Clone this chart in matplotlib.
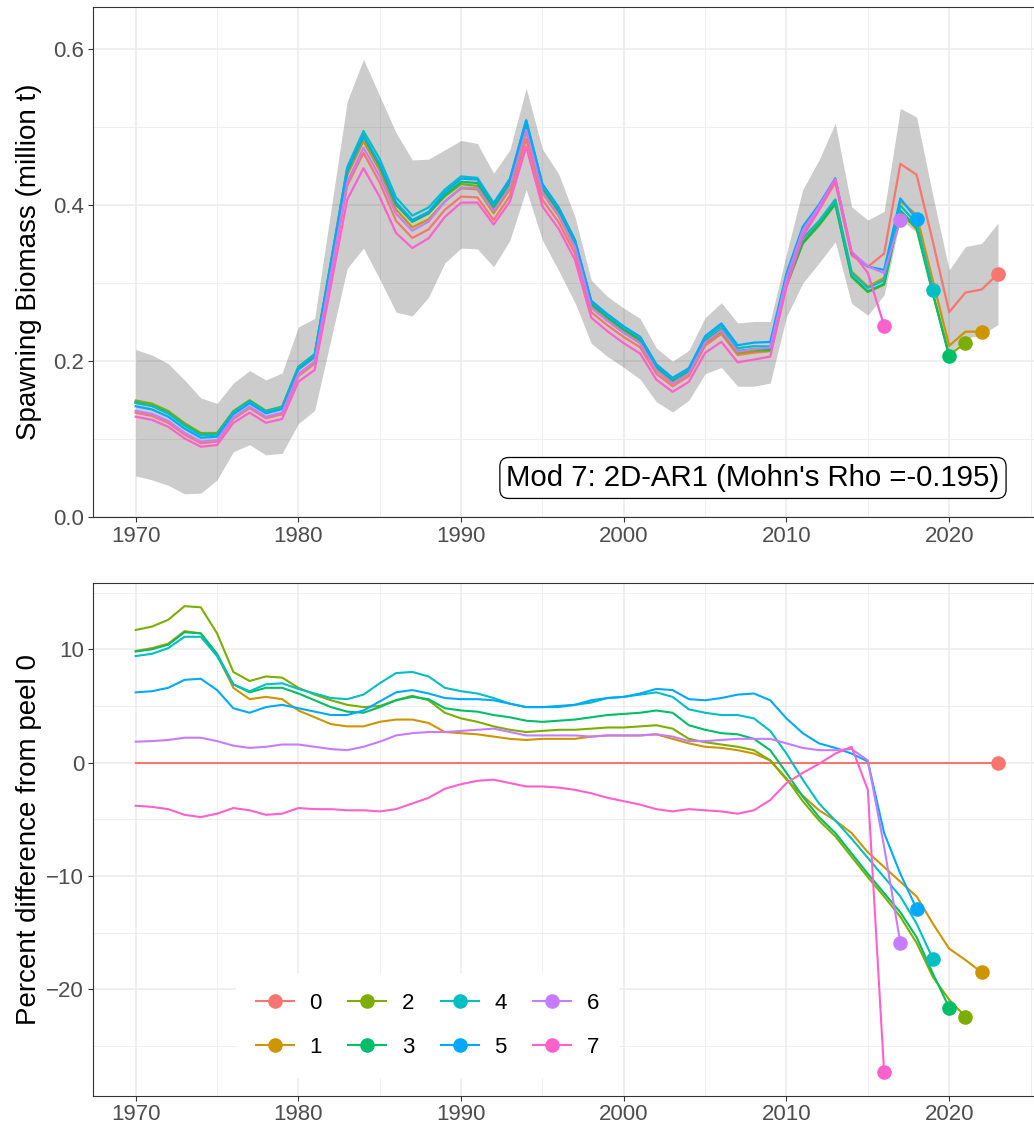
import matplotlib
matplotlib.use("Agg")
import matplotlib.pyplot as plt
from matplotlib.lines import Line2D
import numpy as np

plt.rcParams['font.family'] = ['Liberation Sans', 'DejaVu Sans']

# ---- data -------------------------------------------------------------
years = list(range(1970, 2024))

# peel 0 spawning biomass (million t) and its confidence band
ssb_peel0 = [0.134, 0.130, 0.121, 0.106, 0.095, 0.097, 0.126, 0.140, 0.127, 0.132,
             0.181, 0.197, 0.310, 0.425, 0.467, 0.429, 0.380, 0.358, 0.369, 0.394,
             0.411, 0.410, 0.381, 0.412, 0.485, 0.407, 0.378, 0.338, 0.263, 0.246,
             0.231, 0.218, 0.184, 0.168, 0.181, 0.220, 0.235, 0.208, 0.211, 0.213,
             0.301, 0.363, 0.394, 0.429, 0.336, 0.321, 0.338, 0.453, 0.439, 0.353,
             0.263, 0.288, 0.292, 0.312]
ssb_lower = [0.053, 0.048, 0.041, 0.030, 0.031, 0.048, 0.084, 0.093, 0.080, 0.082,
             0.120, 0.137, 0.228, 0.319, 0.345, 0.305, 0.263, 0.258, 0.282, 0.326,
             0.345, 0.344, 0.321, 0.355, 0.420, 0.355, 0.316, 0.275, 0.223, 0.206,
             0.192, 0.177, 0.148, 0.135, 0.150, 0.184, 0.192, 0.168, 0.168, 0.172,
             0.257, 0.300, 0.326, 0.353, 0.274, 0.259, 0.285, 0.382, 0.365, 0.292,
             0.210, 0.229, 0.234, 0.247]
ssb_upper = [0.215, 0.208, 0.197, 0.176, 0.153, 0.146, 0.172, 0.188, 0.176, 0.185,
             0.244, 0.255, 0.394, 0.533, 0.587, 0.540, 0.493, 0.458, 0.459, 0.471,
             0.483, 0.479, 0.441, 0.471, 0.550, 0.472, 0.440, 0.385, 0.304, 0.283,
             0.268, 0.255, 0.217, 0.200, 0.214, 0.256, 0.275, 0.249, 0.251, 0.251,
             0.338, 0.420, 0.458, 0.505, 0.398, 0.381, 0.392, 0.524, 0.513, 0.412,
             0.317, 0.347, 0.351, 0.377]

# percent difference of each retrospective peel from peel 0 (1970 .. terminal year)
pct_peel1 = [9.85, 10.1, 10.5, 11.6, 11.4, 9.5, 6.6, 5.6, 5.8, 5.6,
             4.6, 4.0, 3.4, 3.2, 3.2, 3.6, 3.8, 3.8, 3.5, 2.7,
             2.6, 2.5, 2.3, 2.1, 2.0, 2.1, 2.1, 2.1, 2.3, 2.4,
             2.4, 2.4, 2.5, 2.1, 1.7, 1.4, 1.3, 1.1, 0.8, 0.2,
             -1.5, -2.9, -4.2, -5.1, -6.2, -7.9, -9.2, -10.5, -11.8, -14.2,
             -16.4, -17.4, -18.5]
pct_peel2 = [11.7, 12.0, 12.6, 13.8, 13.7, 11.4, 8.0, 7.2, 7.6, 7.5,
             6.6, 6.0, 5.5, 5.1, 4.9, 5.0, 5.5, 5.9, 5.5, 4.4,
             3.9, 3.6, 3.2, 2.9, 2.7, 2.8, 2.9, 2.9, 3.0, 3.1,
             3.1, 3.2, 3.3, 3.0, 2.1, 1.8, 1.6, 1.4, 1.1, 0.2,
             -1.4, -3.4, -5.1, -6.5, -8.3, -10.1, -11.8, -13.6, -15.9, -18.9,
             -20.9, -22.4]
pct_peel3 = [9.8, 10.0, 10.4, 11.5, 11.4, 9.6, 6.9, 6.2, 6.6, 6.6,
             6.1, 5.5, 4.9, 4.5, 4.4, 4.9, 5.5, 5.8, 5.6, 4.8,
             4.6, 4.5, 4.2, 4.0, 3.7, 3.6, 3.7, 3.8, 4.0, 4.2,
             4.3, 4.4, 4.6, 4.4, 3.3, 2.9, 2.6, 2.5, 2.1, 1.1,
             -0.9, -3.0, -4.8, -6.2, -8.0, -9.8, -11.5, -13.2, -15.4, -18.6,
             -21.6]
pct_peel4 = [9.4, 9.6, 10.1, 11.1, 11.1, 9.4, 6.9, 6.3, 6.9, 7.0,
             6.5, 6.1, 5.7, 5.6, 6.0, 7.0, 7.9, 8.0, 7.6, 6.6,
             6.3, 6.1, 5.7, 5.2, 4.9, 4.9, 4.9, 5.1, 5.3, 5.7,
             5.8, 6.0, 6.2, 5.8, 4.7, 4.4, 4.2, 4.2, 3.9, 2.8,
             0.8, -1.5, -3.6, -5.1, -6.7, -8.4, -10.1, -11.8, -14.2, -17.3]
pct_peel5 = [6.2, 6.3, 6.6, 7.3, 7.4, 6.4, 4.8, 4.4, 4.9, 5.1,
             4.8, 4.5, 4.2, 4.2, 4.6, 5.4, 6.2, 6.4, 6.1, 5.7,
             5.6, 5.6, 5.5, 5.2, 4.9, 4.9, 5.0, 5.1, 5.5, 5.7,
             5.8, 6.1, 6.5, 6.4, 5.6, 5.5, 5.7, 6.0, 6.1, 5.5,
             3.9, 2.6, 1.7, 1.3, 0.8, 0.1, -6.2, -9.8, -12.9]
pct_peel6 = [1.85, 1.9, 2.0, 2.2, 2.2, 1.9, 1.5, 1.3, 1.4, 1.6,
             1.6, 1.4, 1.2, 1.1, 1.4, 1.85, 2.4, 2.6, 2.7, 2.7,
             2.8, 2.9, 3.0, 2.7, 2.4, 2.4, 2.4, 2.4, 2.3, 2.4,
             2.4, 2.4, 2.5, 2.3, 1.9, 1.9, 2.0, 2.1, 2.1, 2.1,
             1.7, 1.3, 1.1, 1.1, 1.2, 0.2, -7.4, -15.9]
pct_peel7 = [-3.8, -3.9, -4.1, -4.6, -4.8, -4.5, -4.0, -4.2, -4.6, -4.5,
             -4.0, -4.1, -4.1, -4.2, -4.2, -4.3, -4.1, -3.6, -3.1, -2.3,
             -1.9, -1.6, -1.5, -1.8, -2.1, -2.1, -2.2, -2.4, -2.7, -3.1,
             -3.4, -3.7, -4.1, -4.3, -4.1, -4.2, -4.3, -4.5, -4.2, -3.3,
             -1.8, -0.9, -0.1, 0.8, 1.4, -2.4, -27.3]

peel_labels = ['0', '1', '2', '3', '4', '5', '6', '7']
peel_colors = ['#F8766D', '#CD9600', '#7CAE00', '#00BE67',
               '#00BFC4', '#00A9FF', '#C77CFF', '#FF61CC']

annotation = "Mod 7: 2D-AR1 (Mohn's Rho =-0.195)"

# ---- derived series ---------------------------------------------------
pct_all = [[0.0] * len(years), pct_peel1, pct_peel2, pct_peel3,
           pct_peel4, pct_peel5, pct_peel6, pct_peel7]
base = np.array(ssb_peel0)
ssb_all = [base[:len(p)] * (1 + np.array(p) / 100.0) for p in pct_all]

# ---- figure -----------------------------------------------------------
W, H = 1034, 1134
fig = plt.figure(figsize=(W / 100, H / 100), dpi=100)

def px_axes(left, top, right, bottom):
    return fig.add_axes([left / W, 1 - bottom / H, (right - left) / W, (bottom - top) / H])

ax1 = px_axes(92.6, 7.0, 1041.1, 517.3)
ax2 = px_axes(92.6, 582.8, 1041.1, 1095.5)

def style(ax):
    ax.set_facecolor('white')
    ax.set_axisbelow(True)
    ax.set_xticks(range(1970, 2021, 10))
    ax.set_xticks(range(1975, 2026, 10), minor=True)
    ax.grid(which='major', color='#EBEBEB', linewidth=1.1)
    ax.grid(which='minor', color='#EBEBEB', linewidth=0.55)
    ax.tick_params(which='major', direction='out', length=3.6, width=0.8,
                   color='#333333', labelcolor='#4D4D4D', labelsize=16, pad=2.5)
    ax.tick_params(which='minor', length=0)
    for s in ax.spines.values():
        s.set_color('#333333')
        s.set_linewidth(0.8)
    ax.set_xlim(1967.35, 2025.65)

# top: spawning biomass by peel
style(ax1)
ax1.fill_between(years, ssb_lower, ssb_upper, color='black', alpha=0.2, linewidth=0)
for k in range(8):
    yrs = years[:len(ssb_all[k])]
    ax1.plot(yrs, ssb_all[k], color=peel_colors[k], lw=1.6, solid_joinstyle='round')
for k in range(8):
    n = len(ssb_all[k])
    ax1.plot(years[n - 1], ssb_all[k][-1], 'o', color=peel_colors[k], ms=10.5, mec='none')
ax1.set_ylim(0, 0.654)
ax1.set_yticks([0.0, 0.2, 0.4, 0.6])
ax1.set_yticks([0.1, 0.3, 0.5], minor=True)
ax1.set_yticklabels(['0.0', '0.2', '0.4', '0.6'])
ax1.set_ylabel('Spawning Biomass (million t)', fontsize=20)
ax1.yaxis.set_label_coords(-0.053, 0.5)
ax1.text(2007.94, 0.0504, annotation, fontsize=21.2, ha='center', va='center',
         bbox=dict(boxstyle='round,pad=0.22,rounding_size=0.3', facecolor='white',
                   edgecolor='black', linewidth=0.9))

# bottom: percent difference from peel 0
style(ax2)
for k in range(8):
    yrs = years[:len(pct_all[k])]
    ax2.plot(yrs, pct_all[k], color=peel_colors[k], lw=1.5, solid_joinstyle='round')
for k in range(8):
    n = len(pct_all[k])
    ax2.plot(years[n - 1], pct_all[k][-1], 'o', color=peel_colors[k], ms=10.5, mec='none')
ax2.set_ylim(-29.35, 15.86)
ax2.set_yticks([-20, -10, 0, 10])
ax2.set_yticks([-25, -15, -5, 5, 15], minor=True)
ax2.set_ylabel('Percent difference from peel 0', fontsize=20)
ax2.yaxis.set_label_coords(-0.053, 0.5)

handles = [Line2D([0], [0], color=c, lw=1.5, marker='o', ms=10.5, mec='none')
           for c in peel_colors]
leg = ax2.legend(handles, peel_labels, ncol=4, loc='center',
                 bbox_to_anchor=(0.353, 0.137), fontsize=16, frameon=True,
                 handlelength=1.7, handletextpad=0.7, columnspacing=1.2,
                 labelspacing=1.05, borderpad=0.9)
leg.get_frame().set_facecolor('white')
leg.get_frame().set_edgecolor('none')
leg.get_frame().set_alpha(1)

fig.savefig('out.png', dpi=100, facecolor='white')
